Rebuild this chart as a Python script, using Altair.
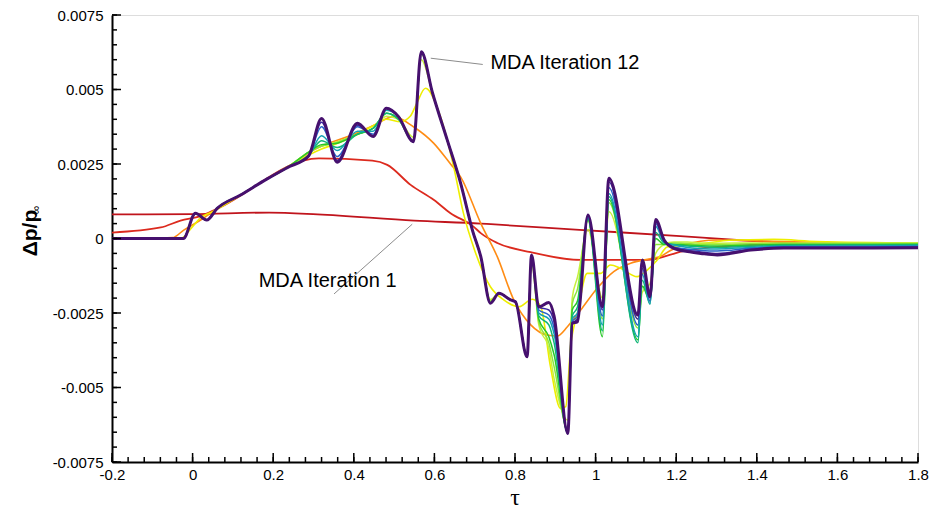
import altair as alt
import pandas as pd

# ---------------- data ----------------
# iteration 1 (dark red, nearly flat)
x_it1 = [-0.2, 0.0, 0.19, 0.31, 0.55, 0.715, 0.74, 0.96, 1.21, 1.35, 1.5, 1.8]
y_it1 = [0.00081, 0.00082, 0.00087, 0.00081, 0.0006, 0.0005, 0.00048, 0.00029, 0.00008, -0.00005, -0.00015, -0.00024]

# iteration 2 (red)
x_it2 = [-0.2, -0.079, -0.03, 0.02, 0.061, 0.313, 0.446, 0.483, 0.541, 0.599, 0.640, 0.697, 0.715,
         0.756, 0.839, 0.963, 1.128, 1.218, 1.302, 1.45, 1.8]
y_it2 = [0.0002, 0.00037, 0.0006, 0.00075, 0.001, 0.00269, 0.00261, 0.00247, 0.0018, 0.00129, 0.00085,
         0.0004, 0.00018, -0.00015, -0.00046, -0.00072, -0.00072, -0.00042, -0.00028, -0.0002, -0.00022]

# iteration 3 (orange, smooth)
x_it3 = [-0.2, -0.05, -0.022, 0.02, 0.061, 0.119, 0.185, 0.235, 0.30, 0.40, 0.45, 0.499, 0.548, 0.598,
         0.640, 0.665, 0.715, 0.756, 0.797, 0.839, 0.880, 0.905, 0.930, 0.963, 1.004, 1.045, 1.087,
         1.136, 1.161, 1.186, 1.219, 1.302, 1.40, 1.8]
y_it3 = [0.0, 0.00003, 0.00028, 0.00062, 0.001, 0.00146, 0.002, 0.0024, 0.00297, 0.0035, 0.0038, 0.00409,
         0.00375, 0.0032, 0.0025, 0.00207, 0.00051, -0.00061, -0.00206, -0.0029, -0.00324, -0.00327,
         -0.00296, -0.0024, -0.00167, -0.00111, -0.00083, -0.00068, -0.0006, -0.0004, -0.00022,
         -0.00005, -0.00008, -0.0002]

# iteration 4 (yellow)
x_it4 = [-0.2, -0.03, 0.0, 0.02, 0.05, 0.119, 0.185, 0.235, 0.288, 0.32, 0.36, 0.41, 0.45, 0.48, 0.516,
         0.54, 0.555, 0.578, 0.615, 0.648, 0.672, 0.70, 0.739, 0.772, 0.809, 0.843, 0.864, 0.888,
         0.913, 0.926, 0.938, 0.955, 0.979, 1.012, 1.037, 1.062, 1.103, 1.128, 1.153, 1.178, 1.236,
         1.343, 1.442, 1.55, 1.8]
y_it4 = [0.0, 0.0, 0.0004, 0.0007, 0.0009, 0.00146, 0.002, 0.0024, 0.0028, 0.003, 0.0032, 0.0035, 0.0038,
         0.004, 0.00392, 0.0041, 0.0045, 0.00504, 0.00409, 0.0024, 0.00085, -0.0004, -0.00162,
         -0.00206, -0.00229, -0.00204, -0.00229, -0.0043, -0.0057, -0.00564, -0.00363, -0.0025,
         -0.00117, -0.00117, -0.00089, -0.001, -0.00128, -0.00106, -0.00072, -0.00028, -0.00022,
         -0.00005, -0.00003, -0.0001, -0.00015]

# iterations 5-12 share one tau grid
x_grid = [-0.2, -0.023, 0.007, 0.035, 0.061, 0.119, 0.185, 0.235, 0.288, 0.320, 0.359, 0.409, 0.448,
          0.481, 0.511, 0.548, 0.5675, 0.595, 0.632, 0.665, 0.695, 0.715, 0.739, 0.760, 0.789, 0.801,
          0.830, 0.841, 0.859, 0.884, 0.897, 0.931, 0.942, 0.955, 0.981, 1.017, 1.033, 1.105, 1.116,
          1.135, 1.149, 1.170, 1.194, 1.228, 1.261, 1.302, 1.385, 1.467, 1.633, 1.80]

y_it5 = [0, 0, 0.00085, 0.00062, 0.00101, 0.00146, 0.0020, 0.00238, 0.0029, 0.0031, 0.00325, 0.0035,
         0.0037, 0.0041, 0.0040, 0.0034, 0.0060, 0.0049, 0.0033, 0.00186, 0.00025, -0.0006, -0.00205,
         -0.00184, -0.00206, -0.00212, -0.0039, -0.0008, -0.0029, -0.0037, -0.0047, -0.0061, -0.0020,
         -0.0013, 0.0003, -0.0020, 0.0009, -0.0027, -0.0018, -0.0015, -0.0005, -0.0002, -0.00012,
         -0.00012, -0.00015, -0.00016, -0.00015, -0.00015, -0.00015, -0.00015]
y_it6 = [0, 0, 0.00085, 0.00062, 0.00101, 0.00146, 0.0020, 0.00238, 0.0029, 0.0031, 0.00322, 0.0035,
         0.0037, 0.0042, 0.0040, 0.00325, 0.00620, 0.0049, 0.0033, 0.00186, 0.00025, -0.0006, -0.0021,
         -0.00184, -0.00206, -0.00212, -0.00395, -0.0007, -0.0028, -0.0035, -0.0043, -0.0064, -0.0022,
         -0.0017, 0.0006, -0.0027, 0.0012, -0.0030, -0.0016, -0.0018, -0.0002, -0.0002, -0.00015,
         -0.00017, -0.0002, -0.0002, -0.00018, -0.00017, -0.00017, -0.00017]
y_it7 = [0, 0, 0.00085, 0.00062, 0.00101, 0.00146, 0.0020, 0.00238, 0.0029, 0.00315, 0.0032, 0.0035,
         0.0037, 0.0042, 0.0040, 0.00325, 0.00625, 0.0049, 0.0033, 0.00186, 0.00025, -0.0006, -0.00215,
         -0.00184, -0.00206, -0.00212, -0.00397, -0.0006, -0.0027, -0.0033, -0.0039, -0.0065, -0.0024,
         -0.0021, 0.00065, -0.0033, 0.0013, -0.0034, -0.0016, -0.0021, 0.0, -0.0002, -0.0002,
         -0.00022, -0.00024, -0.00025, -0.00022, -0.0002, -0.0002, -0.00019]
y_it8 = [0, 0, 0.00085, 0.00062, 0.00101, 0.00146, 0.0020, 0.00238, 0.0028, 0.00328, 0.00305, 0.0035,
         0.0037, 0.0042, 0.0040, 0.00325, 0.00627, 0.0049, 0.0033, 0.00186, 0.00025, -0.0006, -0.00217,
         -0.00184, -0.00206, -0.00212, -0.00397, -0.00055, -0.0026, -0.0029, -0.0035, -0.00654,
         -0.0026, -0.0023, 0.0007, -0.0031, 0.0014, -0.0035, -0.0014, -0.0022, 0.0002, -0.00015,
         -0.0002, -0.00025, -0.00028, -0.0003, -0.00026, -0.00023, -0.00022, -0.00021]
y_it9 = [0, 0, 0.00085, 0.00062, 0.00101, 0.00146, 0.0020, 0.00238, 0.00277, 0.00345, 0.00295, 0.0036,
         0.0036, 0.0043, 0.00409, 0.00325, 0.00627, 0.0049, 0.0033, 0.00186, 0.00025, -0.0006, -0.00217,
         -0.00184, -0.00206, -0.00212, -0.00397, -0.00055, -0.0025, -0.0027, -0.0032, -0.00654,
         -0.0027, -0.0025, 0.0007, -0.0029, 0.0015, -0.0033, -0.0012, -0.0022, 0.0004, -0.00012,
         -0.00022, -0.0003, -0.00034, -0.00035, -0.0003, -0.00026, -0.00025, -0.00024]
y_it10 = [0, 0, 0.00085, 0.00062, 0.00101, 0.00146, 0.0020, 0.00238, 0.00277, 0.00375, 0.00275, 0.00375,
          0.0035, 0.00437, 0.00409, 0.00325, 0.00627, 0.0049, 0.0033, 0.00186, 0.00025, -0.0006,
          -0.00217, -0.00184, -0.00206, -0.00212, -0.00397, -0.00055, -0.0024, -0.00257, -0.0030,
          -0.00654, -0.0028, -0.0026, 0.00075, -0.0026, 0.0017, -0.0029, -0.0010, -0.0021, 0.0005,
          -0.0001, -0.00028, -0.00036, -0.0004, -0.00042, -0.00033, -0.00028, -0.00028, -0.00027]
y_it11 = [0, 0, 0.00085, 0.00062, 0.00101, 0.00146, 0.0020, 0.00238, 0.00277, 0.0039, 0.00262, 0.0038,
          0.00345, 0.00437, 0.00409, 0.00325, 0.00627, 0.0049, 0.0033, 0.00186, 0.00025, -0.0006,
          -0.00217, -0.00184, -0.00206, -0.00212, -0.00397, -0.00055, -0.0023, -0.0024, -0.0028,
          -0.00654, -0.00285, -0.0027, 0.00079, -0.0024, 0.0019, -0.0027, -0.0008, -0.0020, 0.0006,
          -0.00005, -0.0003, -0.0004, -0.00045, -0.0005, -0.00036, -0.0003, -0.0003, -0.00029]
y_it12 = [0, 0, 0.00085, 0.00062, 0.00101, 0.00146, 0.0020, 0.00238, 0.00277, 0.00403, 0.00256, 0.00387,
          0.00342, 0.00437, 0.00409, 0.00325, 0.00627, 0.0049, 0.0033, 0.00186, 0.00025, -0.0006,
          -0.00217, -0.00184, -0.00206, -0.00212, -0.00397, -0.00055, -0.0023, -0.00215, -0.0026,
          -0.00654, -0.00285, -0.00279, 0.00079, -0.00229, 0.00202, -0.00257, -0.00072, -0.00195,
          0.00064, -0.00005, -0.00033, -0.00044, -0.0005, -0.00055, -0.00039, -0.00032, -0.00032,
          -0.00031]

series = [
    ("1", x_it1, y_it1, "#c0141c", 1.8),
    ("2", x_it2, y_it2, "#dc2a1e", 1.8),
    ("3", x_it3, y_it3, "#ff8c14", 1.6),
    ("4", x_it4, y_it4, "#eeee00", 1.6),
    ("5", x_grid, y_it5, "#c8f03c", 1.5),
    ("6", x_grid, y_it6, "#8ce63c", 1.5),
    ("7", x_grid, y_it7, "#28c828", 1.5),
    ("8", x_grid, y_it8, "#10b478", 1.5),
    ("9", x_grid, y_it9, "#14a0b4", 1.5),
    ("10", x_grid, y_it10, "#2864c8", 1.5),
    ("11", x_grid, y_it11, "#3c28a0", 1.5),
    ("12", x_grid, y_it12, "#46106e", 3.0),
]

# axis ticks and labels
x_major = [-0.2, 0, 0.2, 0.4, 0.6, 0.8, 1, 1.2, 1.4, 1.6, 1.8]
y_major = [-0.0075, -0.005, -0.0025, 0, 0.0025, 0.005, 0.0075]
x_minor = [round(-0.2 + 0.04 * i, 2) for i in range(51)]
y_minor = [round(-0.0075 + 0.0005 * i, 4) for i in range(31)]

# annotations
ann_text = ["MDA Iteration 12", "MDA Iteration 1"]
ann_tx = [0.739, 0.164]
ann_ty = [0.00588, -0.00143]
lead_x1 = [0.591, 0.545]
lead_y1 = [0.00605, 0.00048]
lead_x2 = [0.720, 0.351]
lead_y2 = [0.00584, -0.00186]

# ---------------- chart ----------------
W, H = 806, 447
xs = alt.Scale(domain=[-0.2, 1.8], nice=False, zero=False)
ys = alt.Scale(domain=[-0.0075, 0.0075], nice=False, zero=False)

x_axis = alt.Axis(values=x_major, labelExpr="toString(datum.value)", ticks=False, grid=False,
                  domainColor="black", domainWidth=2, labelFont="Liberation Sans", labelFontSize=15,
                  labelColor="black", labelPadding=5, labelOverlap=False, labelFlush=False, title="")
y_axis = alt.Axis(values=y_major, labelExpr="toString(datum.value)", ticks=False, grid=False,
                  domainColor="black", domainWidth=2, labelFont="Liberation Sans", labelFontSize=15,
                  labelColor="black", labelPadding=9, labelOverlap=False, labelFlush=False, title="")


def X(field):
    return alt.X(field, scale=xs, axis=x_axis)


def Y(field):
    return alt.Y(field, scale=ys, axis=y_axis)


layers = []
for name, xv, yv, col, sw in series:
    df = pd.DataFrame({"tau": xv, "dp": yv})
    layers.append(
        alt.Chart(df).mark_line(color=col, strokeWidth=sw, interpolate="monotone").encode(
            x=X("tau:Q"), y=Y("dp:Q"))
    )


def ticks_y(vals, length):
    return alt.Chart(pd.DataFrame({"tau": [0.0] * len(vals), "dp": vals})).mark_rule(
        color="black", strokeWidth=1.5).encode(y=Y("dp:Q"), x=alt.value(0), x2=alt.value(length))


def ticks_x(vals, length):
    return alt.Chart(pd.DataFrame({"tau": vals})).mark_rule(color="black", strokeWidth=1.5).encode(
        x=X("tau:Q"), y=alt.value(H), y2=alt.value(H - length))


tick_layers = [ticks_y(y_minor, 5), ticks_y(y_major, 9), ticks_x(x_minor, 5), ticks_x(x_major, 9)]

leaders = alt.Chart(pd.DataFrame({"tau": lead_x1, "dp": lead_y1, "tau2": lead_x2, "dp2": lead_y2})).mark_rule(
    color="#8c8c8c", strokeWidth=1).encode(
    x=X("tau:Q"), y=Y("dp:Q"), x2="tau2:Q", y2="dp2:Q")

labels = alt.Chart(pd.DataFrame({"t": ann_text, "tau": ann_tx, "dp": ann_ty})).mark_text(
    align="left", baseline="middle", font="Liberation Sans", fontSize=20, color="black").encode(
    x=X("tau:Q"), y=Y("dp:Q"), text="t:N")

xtitle = alt.Chart(pd.DataFrame({"t": ["τ"]})).mark_text(
    align="center", baseline="middle", font="Liberation Serif", fontSize=24,
    color="black").encode(x=alt.value(403), y=alt.value(483), text="t:N")
ytitle = alt.Chart(pd.DataFrame({"t": ["Δp/p"]})).mark_text(
    angle=270, align="center", baseline="middle", font="Liberation Sans", fontSize=21,
    fontWeight="bold", color="black").encode(x=alt.value(-81), y=alt.value(218), text="t:N")
yinf = alt.Chart(pd.DataFrame({"t": ["∞"]})).mark_text(
    angle=270, align="center", baseline="middle", font="Liberation Sans", fontSize=12,
    color="black").encode(x=alt.value(-76), y=alt.value(195), text="t:N")

chart = alt.layer(*layers, *tick_layers, leaders, labels, xtitle, ytitle, yinf).properties(
    width=W, height=H,
    autosize=alt.AutoSizeParams(type="none"),
    padding={"left": 112, "top": 15, "right": 17, "bottom": 48},
).configure_view(strokeWidth=0).configure(background="white")

chart.save("out.html", embed_options={"renderer": "svg", "actions": False})
